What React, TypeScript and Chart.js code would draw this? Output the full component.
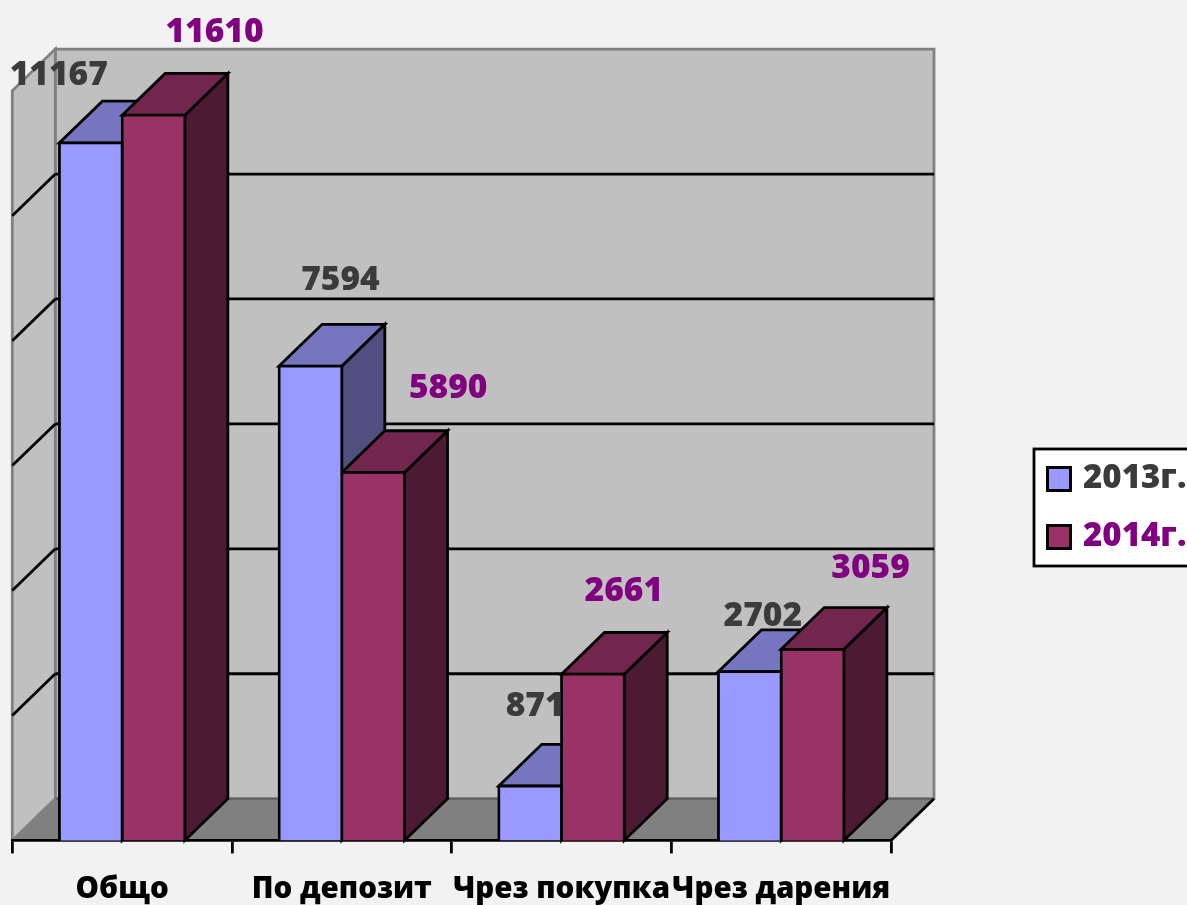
import React, { useEffect, useRef } from "react";
import { Chart, registerables } from "chart.js";

Chart.register(...registerables);

const categories = ["Общо", "По депозит", "Чрез покупка", "Чрез дарения"];
const series2013 = [11167, 7594, 871, 2702];
const series2014 = [11610, 5890, 2661, 3059];
const seriesNames = ["2013г.", "2014г."];

const FONT = "'Open Sans', Lato, sans-serif";
const TEXT_WEIGHT = 800;
const STROKE = 2.8;
const DEPTH_X = 43;
const DEPTH_Y = 41.7;
const BAR_COLORS = [
  { front: "#9999FF", top: "#7676C0", side: "#4F4F80", text: "#3B3B3B" },
  { front: "#993366", top: "#73264D", side: "#4D1A33", text: "#800080" },
];
// hand placement of the value labels relative to the top of their bar
const labelShift = [
  [[-32, -58], [30, -76], [5, -70], [13, -46]],
  [[61, -73], [75, -74], [31, -73], [58, -71]],
];

function poly(ctx: CanvasRenderingContext2D, pts: number[][], fill: string | null, stroke: string | null, lw = STROKE) {
  ctx.beginPath();
  pts.forEach((p, i) => (i ? ctx.lineTo(p[0], p[1]) : ctx.moveTo(p[0], p[1])));
  ctx.closePath();
  if (fill) {
    ctx.fillStyle = fill;
    ctx.fill();
  }
  if (stroke) {
    ctx.strokeStyle = stroke;
    ctx.lineWidth = lw;
    ctx.lineJoin = "miter";
    ctx.stroke();
  }
}

function line(ctx: CanvasRenderingContext2D, x0: number, y0: number, x1: number, y1: number, color: string, lw: number) {
  ctx.beginPath();
  ctx.moveTo(x0, y0);
  ctx.lineTo(x1, y1);
  ctx.strokeStyle = color;
  ctx.lineWidth = lw;
  ctx.stroke();
}

const scene3d = {
  id: "scene3d",
  afterLayout(chart: any) {
    const lg = chart.legend;
    lg.left = 1026.5;
    lg.right = 1187;
    lg.top = 437.5;
    lg.bottom = 700;
  },
  beforeDraw(chart: any) {
    const { ctx, width, height, chartArea: a, scales } = chart;
    ctx.save();
    ctx.fillStyle = "#F2F2F2";
    ctx.fillRect(0, 0, width, height);
    const L = a.left, R = a.right, T = a.top, B = a.bottom;
    // floor, back wall, left wall
    poly(ctx, [[L + DEPTH_X, T - DEPTH_Y], [R + DEPTH_X, T - DEPTH_Y], [R + DEPTH_X, B - DEPTH_Y], [L + DEPTH_X, B - DEPTH_Y]], "#C0C0C0", "#808080");
    poly(ctx, [[L, T], [L + DEPTH_X, T - DEPTH_Y], [L + DEPTH_X, B - DEPTH_Y], [L, B]], "#C0C0C0", "#808080");
    poly(ctx, [[L, B], [L + DEPTH_X, B - DEPTH_Y], [R + DEPTH_X, B - DEPTH_Y], [R, B]], "#808080", null);
    line(ctx, L + DEPTH_X, B - DEPTH_Y, R + DEPTH_X, B - DEPTH_Y, "#5F5F5F", 2);
    line(ctx, R, B, R + DEPTH_X, B - DEPTH_Y, "#000", STROKE);
    line(ctx, L, B, L + DEPTH_X, B - DEPTH_Y, "#808080", 2);
    // value gridlines from the y scale
    for (const t of scales.y.ticks) {
      if (t.value <= 0 || t.value >= 12000) continue;
      const y = scales.y.getPixelForValue(t.value);
      line(ctx, L, y, L + DEPTH_X, y - DEPTH_Y, "#000", STROKE);
      line(ctx, L + DEPTH_X, y - DEPTH_Y, R + DEPTH_X, y - DEPTH_Y, "#000", STROKE);
    }
    // legend frame
    ctx.fillStyle = "#FFFFFF";
    ctx.fillRect(1034, 449, 160, 117);
    ctx.strokeStyle = "#000";
    ctx.lineWidth = STROKE;
    ctx.strokeRect(1034, 449, 160, 117);
    ctx.restore();
  },
  beforeDatasetsDraw(chart: any) {
    const { ctx } = chart;
    ctx.save();
    chart.data.datasets.forEach((_: any, di: number) => {
      const c = BAR_COLORS[di];
      chart.getDatasetMeta(di).data.forEach((el: any) => {
        const { x, y, base, width } = el.getProps(["x", "y", "base", "width"], true);
        const x0 = x - width / 2;
        const x1 = x + width / 2;
        poly(ctx, [[x1, y], [x1 + DEPTH_X, y - DEPTH_Y], [x1 + DEPTH_X, base - DEPTH_Y], [x1, base]], c.side, "#000");
        poly(ctx, [[x0, y], [x0 + DEPTH_X, y - DEPTH_Y], [x1 + DEPTH_X, y - DEPTH_Y], [x1, y]], c.top, "#000");
      });
    });
    ctx.restore();
  },
  afterDatasetsDraw(chart: any) {
    const { ctx } = chart;
    ctx.save();
    ctx.font = `${TEXT_WEIGHT} 33.5px ${FONT}`;
    ctx.textAlign = "center";
    ctx.textBaseline = "alphabetic";
    chart.data.datasets.forEach((ds: any, di: number) => {
      ctx.fillStyle = BAR_COLORS[di].text;
      chart.getDatasetMeta(di).data.forEach((el: any, i: number) => {
        const { x, y } = el.getProps(["x", "y"], true);
        const s = labelShift[di][i];
        ctx.fillText(String(ds.data[i]), x + s[0], y + s[1]);
      });
    });
    ctx.restore();
  },
};

function swatch(color: string) {
  const c = document.createElement("canvas");
  c.width = 26;
  c.height = 26;
  const g = c.getContext("2d")!;
  g.fillStyle = color;
  g.fillRect(0, 0, 26, 26);
  g.strokeStyle = "#000";
  g.lineWidth = 3;
  g.strokeRect(1.5, 1.5, 23, 23);
  return c;
}

export default function App() {
  const ref = useRef<HTMLCanvasElement>(null);
  useEffect(() => {
    document.body.style.margin = "0";
    document.body.style.background = "#F2F2F2";
    const chart = new Chart(ref.current!, {
      type: "bar",
      data: {
        labels: categories,
        datasets: [
          { label: seriesNames[0], data: series2013, backgroundColor: BAR_COLORS[0].front, borderColor: "#000", borderWidth: STROKE, inflateAmount: STROKE / 2 },
          { label: seriesNames[1], data: series2014, backgroundColor: BAR_COLORS[1].front, borderColor: "#000", borderWidth: STROKE, inflateAmount: STROKE / 2 },
        ],
      },
      options: {
        responsive: false,
        animation: false,
        layout: { padding: { left: 12.3, right: 296, top: 90.8, bottom: 0 } },
        datasets: { bar: { categoryPercentage: 0.571, barPercentage: 1 } },
        scales: {
          x: {
            grid: { display: true, drawOnChartArea: false, drawTicks: true, tickLength: 13, offset: true, color: "#000", lineWidth: STROKE },
            border: { display: true, color: "#000", width: STROKE },
            ticks: { autoSkip: false, maxRotation: 0, minRotation: 0, padding: 18, color: "#000", font: { family: FONT, size: 29.5, weight: TEXT_WEIGHT } },
            afterFit(scale: any) {
              scale.height = 64.6;
            },
          },
          y: { display: false, min: 0, max: 12000, ticks: { stepSize: 2000 } },
        },
        plugins: {
          tooltip: { enabled: false },
          legend: {
            display: true,
            position: "chartArea",
            align: "start",
            labels: {
              usePointStyle: true,
              pointStyleWidth: 15,
              padding: 25,
              font: { family: FONT, size: 33, weight: TEXT_WEIGHT },
              generateLabels: () =>
                seriesNames.map((text, i) => ({
                  text,
                  datasetIndex: i,
                  fontColor: BAR_COLORS[i].text,
                  pointStyle: swatch(BAR_COLORS[i].front),
                  fillStyle: BAR_COLORS[i].front,
                  strokeStyle: "#000",
                  lineWidth: 0,
                  hidden: false,
                })),
            },
          },
        },
      },
      plugins: [scene3d],
    } as any);
    return () => chart.destroy();
  }, []);
  return <canvas ref={ref} width={1187} height={905} style={{ display: "block" }} />;
}
